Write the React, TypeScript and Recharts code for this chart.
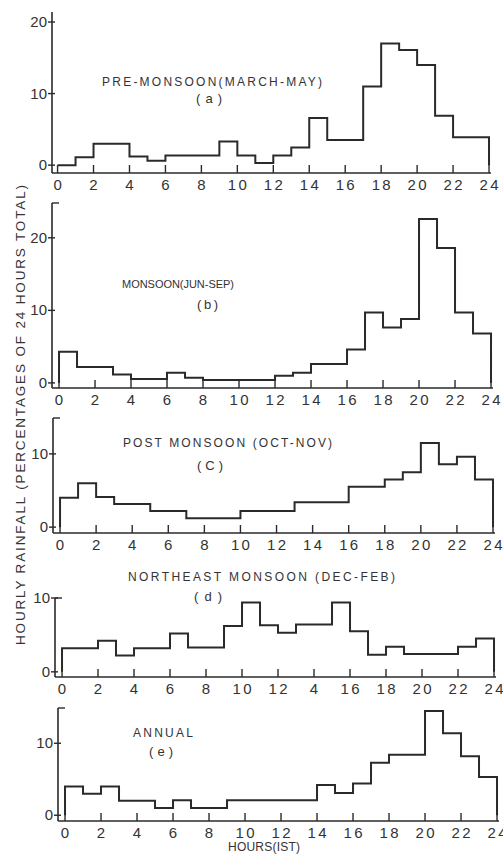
import { LineChart, Line, XAxis, YAxis } from "recharts";

const INK = "#2a2a2a";
const FONT = "'Liberation Sans', Arial, sans-serif";

// hour bins 0-1 ... 23-24
const HOURS = [0, 1, 2, 3, 4, 5, 6, 7, 8, 9, 10, 11, 12, 13, 14, 15, 16, 17, 18, 19, 20, 21, 22, 23];
const X_TICKS = [0, 2, 4, 6, 8, 10, 12, 14, 16, 18, 20, 22, 24];
const X_LABELS = ["0", "2", "4", "6", "8", "10", "12", "14", "16", "18", "20", "22", "24"];
// the printed (d) axis reads "4" where 14 should be
const X_LABELS_D = ["0", "2", "4", "6", "8", "10", "12", "4", "16", "18", "20", "22", "24"];

// hourly rainfall, % of 24 hours total
const PRE_MONSOON = [0, 1.1, 3.0, 3.0, 1.2, 0.6, 1.35, 1.35, 1.35, 3.3, 1.35, 0.3, 1.35, 2.45, 6.6, 3.5, 3.5, 11.0, 17.0, 16.1, 14.0, 6.9, 3.9, 3.9];
const MONSOON = [4.3, 2.2, 2.2, 1.15, 0.55, 0.55, 1.4, 0.7, 0.4, 0.4, 0.4, 0.4, 1.0, 1.4, 2.6, 2.6, 4.6, 9.7, 7.65, 8.8, 22.6, 18.6, 9.7, 6.8];
const POST_MONSOON = [4.0, 6.0, 4.1, 3.15, 3.15, 2.2, 2.2, 1.2, 1.2, 1.2, 2.2, 2.2, 2.2, 3.4, 3.4, 3.4, 5.5, 5.5, 6.5, 7.5, 11.5, 8.6, 9.6, 6.5];
const NORTHEAST = [3.2, 3.2, 4.2, 2.2, 3.2, 3.2, 5.2, 3.3, 3.3, 6.2, 9.4, 6.3, 5.3, 6.4, 6.4, 9.4, 5.5, 2.3, 3.4, 2.4, 2.4, 2.4, 3.4, 4.5];
const ANNUAL = [4.0, 3.0, 4.0, 2.0, 2.0, 1.0, 2.1, 1.0, 1.0, 2.1, 2.1, 2.1, 2.1, 2.1, 4.2, 3.1, 4.4, 7.3, 8.4, 8.4, 14.5, 11.4, 8.2, 5.3];

// histogram outline: up from 0 at hour 0, down to 0 at hour 24
function stepRows(values: number[]) {
  const rows = [{ hour: 0, value: 0 }];
  HOURS.forEach((h, i) => rows.push({ hour: h, value: values[i] }));
  rows.push({ hour: 24, value: values[values.length - 1] });
  rows.push({ hour: 24, value: 0 });
  return rows;
}

const TICK_MARGIN = 13;

function renderXTick(props: any, labels: string[]) {
  const { x, y, index } = props;
  const axisY = y - TICK_MARGIN;
  const label = labels[index];
  return (
    <g key={index}>
      <line x1={x} y1={axisY} x2={x} y2={axisY - 8} stroke={INK} strokeWidth={1.4} />
      <text
        x={x}
        y={axisY + 17}
        textAnchor="middle"
        fontSize={15}
        fontFamily={FONT}
        fill="#333"
        {...(label.length > 1 ? { textLength: 19, lengthAdjust: "spacing" } : {})}
      >
        {label}
      </text>
    </g>
  );
}

function renderYTick(props: any, labelled: number[], cap?: number) {
  const { x, y, payload, index } = props;
  const v = payload.value;
  return (
    <g key={index}>
      {labelled.includes(v) && (
        <>
          <line x1={x - 4} y1={y} x2={x + 3} y2={y} stroke={INK} strokeWidth={1.4} />
          <text x={x - 5} y={y + 5} textAnchor="end" fontSize={15} fontFamily={FONT} fill="#333">
            {v}
          </text>
        </>
      )}
      {cap === v && <line x1={x} y1={y} x2={x + 7} y2={y} stroke={INK} strokeWidth={1.4} />}
    </g>
  );
}

interface PanelProps {
  values: number[];
  left: number;
  right: number;
  top: number;
  bottom: number;
  xDomain: [number, number];
  yDomain: [number, number];
  yLabels: number[];
  cap?: number;
  xLabels: string[];
}

function Panel({ values, left, right, top, bottom, xDomain, yDomain, yLabels, cap, xLabels }: PanelProps) {
  const data = stepRows(values);
  const pad = 12;
  const axisH = 30;
  const yTicks = cap !== undefined && !yLabels.includes(cap) ? [...yLabels, cap] : yLabels;
  return (
    <div style={{ position: "absolute", left: 0, top: top - pad }}>
      <LineChart
        width={503}
        height={bottom - top + pad + axisH}
        data={data}
        margin={{ top: pad, right: 503 - right, bottom: 0, left: 0 }}
      >
        <XAxis
          dataKey="hour"
          type="number"
          domain={xDomain}
          ticks={X_TICKS}
          interval={0}
          allowDataOverflow
          height={axisH}
          tickSize={0}
          tickMargin={TICK_MARGIN}
          tick={(p: any) => renderXTick(p, xLabels)}
          stroke={INK}
          strokeWidth={1.6}
        />
        <YAxis
          type="number"
          domain={yDomain}
          ticks={yTicks}
          interval={0}
          allowDataOverflow
          width={left}
          tickSize={0}
          tickMargin={0}
          tick={(p: any) => renderYTick(p, yLabels, cap)}
          stroke={INK}
          strokeWidth={1.6}
        />
        <Line
          type="stepAfter"
          dataKey="value"
          stroke={INK}
          strokeWidth={2}
          dot={false}
          isAnimationActive={false}
        />
      </LineChart>
    </div>
  );
}

const TITLES: [string, number, number, number, number][] = [
  ["PRE-MONSOON(MARCH-MAY)", 102, 86, 220, 12],
  ["(a)", 196, 103, 26, 13],
  ["MONSOON(JUN-SEP)", 122, 288, 112, 11],
  ["(b)", 197, 309, 21, 13],
  ["POST MONSOON (OCT-NOV)", 123, 447, 209, 12],
  ["(C)", 197, 470, 26, 13],
  ["NORTHEAST MONSOON (DEC-FEB)", 128, 581, 267, 12],
  ["(d)", 194, 601, 28, 13],
  ["ANNUAL", 133, 737, 60, 12],
  ["(e)", 149, 756, 24, 13],
  ["HOURS(IST)", 228, 851, 72, 12],
];

export default function App() {
  return (
    <div style={{ position: "absolute", left: 0, top: 0, width: 503, height: 857, background: "#fff", overflow: "hidden" }}>
      <Panel values={PRE_MONSOON} left={52} right={491} top={12} bottom={173} xDomain={[-0.31, 24.11]} yDomain={[-1.1, 21.4]} yLabels={[0, 10, 20]} xLabels={X_LABELS} />
      <Panel values={MONSOON} left={52} right={493} top={203} bottom={388} xDomain={[-0.39, 24.11]} yDomain={[-0.7, 24.8]} yLabels={[0, 10, 20]} cap={24.8} xLabels={X_LABELS} />
      <Panel values={POST_MONSOON} left={53} right={495} top={418} bottom={533} xDomain={[-0.39, 24.11]} yDomain={[-0.8, 14.9]} yLabels={[0, 10]} cap={14.9} xLabels={X_LABELS} />
      <Panel values={NORTHEAST} left={55} right={496} top={598} bottom={677} xDomain={[-0.39, 24.11]} yDomain={[-0.7, 10]} yLabels={[0, 10]} cap={10} xLabels={X_LABELS_D} />
      <Panel values={ANNUAL} left={58} right={499} top={708} bottom={821} xDomain={[-0.39, 24.11]} yDomain={[-0.8, 14.9]} yLabels={[0, 10]} cap={14.9} xLabels={X_LABELS} />
      <svg width={503} height={857} style={{ position: "absolute", left: 0, top: 0, pointerEvents: "none" }}>
        {TITLES.map(([t, x, y, w, size]) => (
          <text key={t} x={x} y={y} fontSize={size} fontFamily={FONT} fill="#333" textLength={w} lengthAdjust="spacing">
            {t}
          </text>
        ))}
        <text
          x={0}
          y={0}
          transform="translate(25 645) rotate(-90)"
          fontSize={13.5}
          fontFamily={FONT}
          fill="#333"
          textLength={460}
          lengthAdjust="spacing"
        >
          HOURLY RAINFALL (PERCENTAGES OF 24 HOURS TOTAL)
        </text>
      </svg>
    </div>
  );
}
